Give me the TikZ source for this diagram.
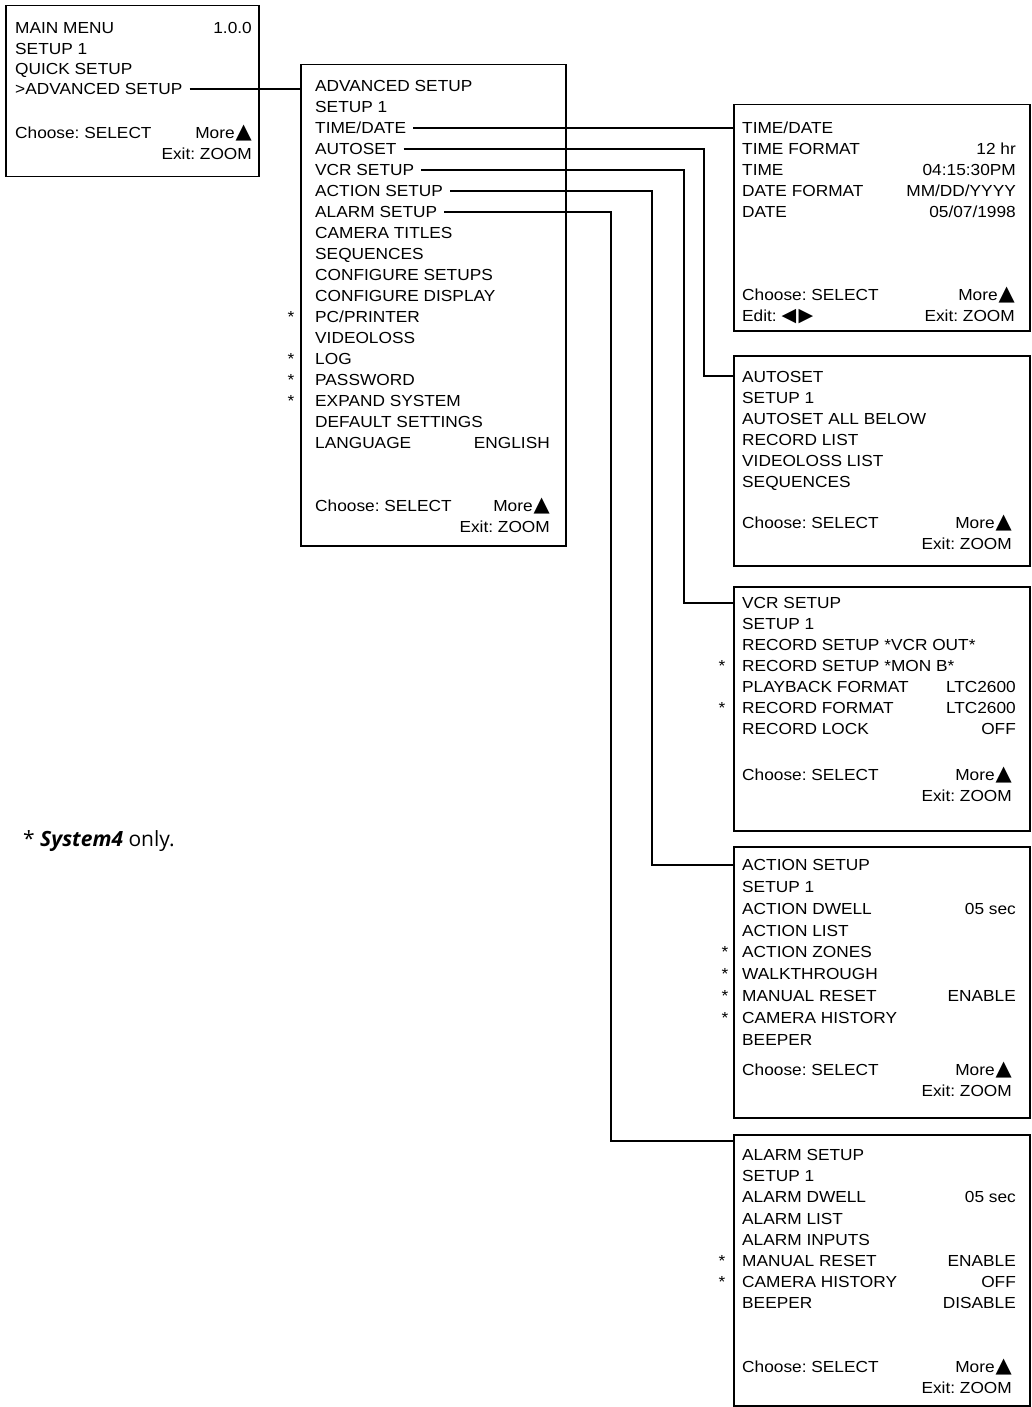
\documentclass[tikz,border=0pt]{standalone}
\usepackage{fontspec}
\setmainfont{Liberation Sans}[FakeStretch=1.08]
\newfontfamily\trifont{DejaVu Sans}
\newfontfamily\notefont{Open Sans}
\newcommand\upTri{\kern1pt{\trifont\fontsize{21}{21}\selectfont ▲}}
\newcommand\lrTri{{\trifont\fontsize{19}{19}\selectfont ◀\kern2.5pt▶}}
\frenchspacing
\begin{document}
\frenchspacing
\begin{tikzpicture}[x=1pt,y=-1pt,
  menubox/.style={draw, line width=1.5pt, inner sep=0pt, anchor=north west},
  txt/.style={anchor=west, inner sep=0pt, text height=11.5pt, text depth=0pt,
              font=\fontsize{16}{16}\selectfont},
  txtr/.style={txt, anchor=east},
  ast/.style={inner sep=0pt, font=\fontsize{16}{16}\selectfont},
  wire/.style={line width=1.5pt}]
\useasboundingbox (0,0) rectangle (1031,1407);

% ---------- boxes ----------
\node[menubox, minimum width=253pt, minimum height=171pt] (mainbox) at (5,5) {};
\node[menubox, minimum width=265pt, minimum height=481pt] (advbox) at (300,64) {};
\node[menubox, minimum width=296pt, minimum height=226pt] (tdbox) at (733,104) {};
\node[menubox, minimum width=296pt, minimum height=210pt] (aubox) at (733,355) {};
\node[menubox, minimum width=296pt, minimum height=244pt] (vcrbox) at (733,586) {};
\node[menubox, minimum width=296pt, minimum height=271pt] (actbox) at (733,846) {};
\node[menubox, minimum width=296pt, minimum height=271pt] (almbox) at (733,1134) {};

% ---------- main menu ----------
\foreach \s [count=\i from 0] in {MAIN MENU, SETUP 1, QUICK SETUP, >ADVANCED SETUP}
  \node[txt] (m\i) at (15,28+20.3*\i) {\s};
\node[txtr] (mver) at (252,28) {1.0.0};
\node[txt] (mch) at (15,133) {Choose: SELECT};
\node[txtr] (mmore) at (252,133) {More\upTri};
\node[txtr] (mexit) at (252,154) {Exit: ZOOM};

% ---------- advanced setup ----------
\foreach \s [count=\i from 0] in {ADVANCED SETUP, SETUP 1, TIME/DATE, AUTOSET, VCR SETUP,
  ACTION SETUP, ALARM SETUP, CAMERA TITLES, SEQUENCES, CONFIGURE SETUPS, CONFIGURE DISPLAY,
  PC/PRINTER, VIDEOLOSS, LOG, PASSWORD, EXPAND SYSTEM, DEFAULT SETTINGS, LANGUAGE}
  \node[txt] (a\i) at (315,86+21*\i) {\s};
\node[txtr] (alang) at (550,443) {ENGLISH};
\node[txt] (ach) at (315,506) {Choose: SELECT};
\node[txtr] (amore) at (550,506) {More\upTri};
\node[txtr] (aexit) at (550,527) {Exit: ZOOM};
\node[ast] (as1) at (291,317) {*};
\node[ast] (as2) at (291,359) {*};
\node[ast] (as3) at (291,380) {*};
\node[ast] (as4) at (291,401) {*};

% ---------- time/date ----------
\foreach \s [count=\i from 0] in {TIME/DATE, TIME FORMAT, TIME, DATE FORMAT, DATE}
  \node[txt] (t\i) at (742,128+21*\i) {\s};
\node[txtr] (tv1) at (1016,149) {12 hr};
\node[txtr] (tv2) at (1016,170) {04:15:30PM};
\node[txtr] (tv3) at (1016,191) {MM/DD/YYYY};
\node[txtr] (tv4) at (1016,212) {05/07/1998};
\node[txt] (tch) at (742,295) {Choose: SELECT};
\node[txtr] (tmore) at (1015,295) {More\upTri};
\node[txt] (tedit) at (742,316) {Edit: \lrTri};
\node[txtr] (texit) at (1015,316) {Exit: ZOOM};

% ---------- autoset ----------
\foreach \s [count=\i from 0] in {AUTOSET, SETUP 1, AUTOSET ALL BELOW, RECORD LIST,
  VIDEOLOSS LIST, SEQUENCES}
  \node[txt] (u\i) at (742,377+21*\i) {\s};
\node[txt] (uch) at (742,523) {Choose: SELECT};
\node[txtr] (umore) at (1012,523) {More\upTri};
\node[txtr] (uexit) at (1012,544) {Exit: ZOOM};

% ---------- vcr setup ----------
\foreach \s [count=\i from 0] in {VCR SETUP, SETUP 1, RECORD SETUP *VCR OUT*,
  RECORD SETUP *MON B*, PLAYBACK FORMAT, RECORD FORMAT, RECORD LOCK}
  \node[txt] (v\i) at (742,603+21*\i) {\s};
\node[txtr] (vv4) at (1016,687) {LTC2600};
\node[txtr] (vv5) at (1016,708) {LTC2600};
\node[txtr] (vv6) at (1016,729) {OFF};
\node[ast] (vs1) at (722,666) {*};
\node[ast] (vs2) at (722,708) {*};
\node[txt] (vch) at (742,775) {Choose: SELECT};
\node[txtr] (vmore) at (1012,775) {More\upTri};
\node[txtr] (vexit) at (1012,796) {Exit: ZOOM};

% ---------- action setup ----------
\foreach \s [count=\i from 0] in {ACTION SETUP, SETUP 1, ACTION DWELL, ACTION LIST,
  ACTION ZONES, WALKTHROUGH, MANUAL RESET, CAMERA HISTORY, BEEPER}
  \node[txt] (c\i) at (742,865+21.8*\i) {\s};
\node[txtr] (cv2) at (1016,908.6) {05 sec};
\node[txtr] (cv6) at (1016,995.8) {ENABLE};
\node[ast] (cs1) at (725,952.2) {*};
\node[ast] (cs2) at (725,974) {*};
\node[ast] (cs3) at (725,995.8) {*};
\node[ast] (cs4) at (725,1017.6) {*};
\node[txt] (cch) at (742,1070) {Choose: SELECT};
\node[txtr] (cmore) at (1012,1070) {More\upTri};
\node[txtr] (cexit) at (1012,1091) {Exit: ZOOM};

% ---------- alarm setup ----------
\foreach \s [count=\i from 0] in {ALARM SETUP, SETUP 1, ALARM DWELL, ALARM LIST,
  ALARM INPUTS, MANUAL RESET, CAMERA HISTORY, BEEPER}
  \node[txt] (l\i) at (742,1155+21.1*\i) {\s};
\node[txtr] (lv2) at (1016,1197.2) {05 sec};
\node[txtr] (lv5) at (1016,1260.5) {ENABLE};
\node[txtr] (lv6) at (1016,1281.6) {OFF};
\node[txtr] (lv7) at (1016,1302.7) {DISABLE};
\node[ast] (ls1) at (722,1260.5) {*};
\node[ast] (ls2) at (722,1281.6) {*};
\node[txt] (lch) at (742,1367) {Choose: SELECT};
\node[txtr] (lmore) at (1012,1367) {More\upTri};
\node[txtr] (lexit) at (1012,1388) {Exit: ZOOM};

% ---------- footnote ----------
\node[anchor=base west, inner sep=0pt, font=\notefont\fontsize{21}{23}\selectfont]
  (note) at (23,846) {* \textbf{\textit{System4}} only.};

% ---------- connectors ----------
\draw[wire] ([xshift=7pt]m3.east) -- (m3.east -| advbox.west);
\draw[wire] ([xshift=7pt]a2.east) -- (a2.east -| tdbox.west);
\coordinate (k3) at (704,376);
\coordinate (k4) at (684,603);
\coordinate (k5) at (652,865);
\coordinate (k6) at (611,1141);
\draw[wire] ([xshift=7pt]a3.east) -| (k3) -- (k3 -| aubox.west);
\draw[wire] ([xshift=7pt]a4.east) -| (k4) -- (k4 -| vcrbox.west);
\draw[wire] ([xshift=7pt]a5.east) -| (k5) -- (k5 -| actbox.west);
\draw[wire] ([xshift=7pt]a6.east) -| (k6) -- (k6 -| almbox.west);
\end{tikzpicture}
\end{document}
